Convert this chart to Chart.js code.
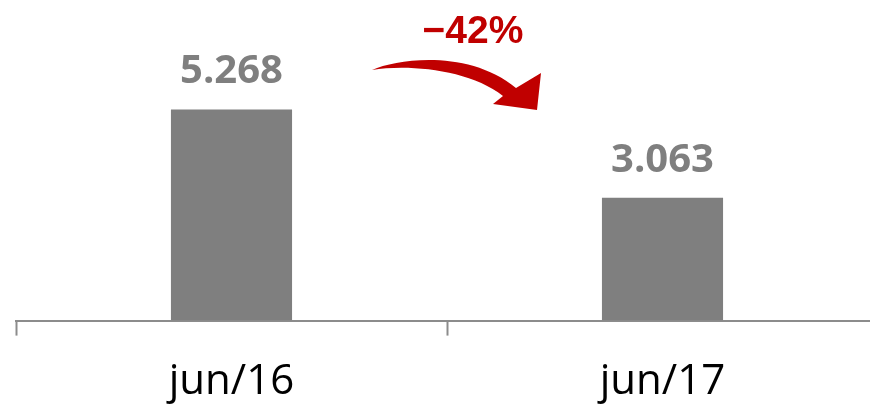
<!DOCTYPE html>
<html>
<head>
<meta charset="utf-8">
<script src="https://cdn.jsdelivr.net/npm/chart.js@4/dist/chart.umd.min.js"></script>
<style>
  html, body { margin: 0; padding: 0; background: #fff; overflow: hidden; }
  #wrap { width: 878px; height: 428px; }
</style>
</head>
<body>
<div id="wrap"><canvas id="chart"></canvas></div>
<script>
// chart data
const periods = ['jun/16', 'jun/17'];
const volumes = [5.268, 3.063];
const valueLabels = ['5.268', '3.063'];
const changeLabel = '\u221242%';

const barGrey = '#7f7f7f';
const arrowRed = '#c00000';

// value labels over each bar
const barLabels = {
    id: 'barLabels',
    afterDatasetsDraw(chart) {
        const ctx = chart.ctx;
        const meta = chart.getDatasetMeta(0);
        ctx.save();
        ctx.font = 'bold 40px "Open Sans"';
        ctx.fillStyle = barGrey;
        ctx.textAlign = 'center';
        ctx.textBaseline = 'alphabetic';
        meta.data.forEach((bar, i) => {
            ctx.fillText(valueLabels[i], bar.x, bar.y - 26);
        });
        ctx.restore();
    }
};

// curved red arrow with the change between the two periods
const changeArrow = {
    id: 'changeArrow',
    afterDraw(chart) {
        const ctx = chart.ctx;
        ctx.save();
        ctx.fillStyle = arrowRed;
        ctx.beginPath();
        ctx.moveTo(372, 70);
        ctx.bezierCurveTo(400, 58, 470, 50, 516, 88);
        ctx.lineTo(541, 73);
        ctx.lineTo(537, 110);
        ctx.lineTo(493, 104);
        ctx.lineTo(503, 96);
        ctx.bezierCurveTo(470, 70, 410, 64, 372, 70);
        ctx.closePath();
        ctx.fill();

        ctx.font = 'bold 39px "Liberation Sans"';
        ctx.textAlign = 'center';
        ctx.textBaseline = 'alphabetic';
        ctx.fillText(changeLabel, 473, 43);
        ctx.restore();
    }
};

new Chart(document.getElementById('chart'), {
    type: 'bar',
    data: {
        labels: periods,
        datasets: [{
            data: volumes,
            backgroundColor: barGrey,
            borderWidth: 0,
            barPercentage: 1,
            categoryPercentage: 0.281
        }]
    },
    options: {
        responsive: true,
        maintainAspectRatio: false,
        animation: false,
        layout: { padding: { left: 16, right: 0, top: 0, bottom: 0 } },
        plugins: {
            legend: { display: false },
            tooltip: { enabled: false }
        },
        scales: {
            x: {
                grid: {
                    offset: true,
                    drawOnChartArea: false,
                    drawTicks: true,
                    tickLength: 15,
                    tickWidth: 2,
                    tickColor: '#8c8c8c'
                },
                border: { display: true, color: '#8c8c8c', width: 2 },
                ticks: {
                    color: '#000',
                    padding: 21,
                    font: { family: '"Open Sans"', size: 42 }
                }
            },
            y: {
                display: false,
                min: 0,
                max: 8
            }
        }
    },
    plugins: [barLabels, changeArrow]
});
</script>
</body>
</html>
